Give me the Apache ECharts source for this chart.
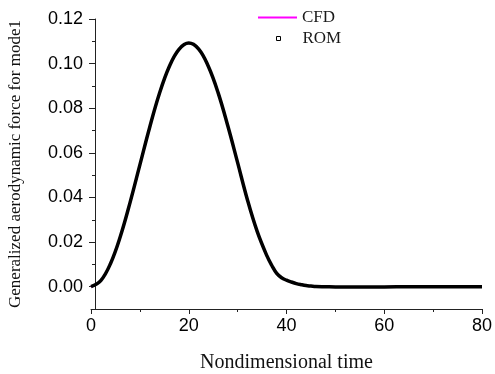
<!DOCTYPE html>
<html>
<head>
<meta charset="utf-8">
<script src="https://cdn.jsdelivr.net/npm/echarts@6/dist/echarts.min.js"></script>
<style>
  html, body { margin: 0; padding: 0; background: #fff; }
  #chart { width: 495px; height: 374px; }
</style>
</head>
<body>
<div id="chart"></div>
<script>
// nondimensional time samples
const timeSteps = [0, 2, 4, 6, 8, 10, 12, 14, 16, 18, 20, 22, 24, 26, 28, 30, 32, 34, 36, 37, 38, 39,
  40, 41, 42, 43, 44, 45, 46, 48, 50, 55, 60, 65, 70, 75, 80];

const cfdValues = [0, 0.0027, 0.0104, 0.0225, 0.0378, 0.0546, 0.0714, 0.0866, 0.0986, 0.1064, 0.1092,
  0.1066, 0.0988, 0.0870, 0.0720, 0.0556, 0.0390, 0.0248, 0.0138, 0.0095, 0.0060, 0.0040,
  0.0029, 0.0021, 0.0014, 0.0009, 0.0005, 0.0003, 0.0001, 0, -0.0001, -0.0001, -0.0001, 0, 0, 0, 0];

const romValues = [0, 0.0027, 0.0104, 0.0225, 0.0378, 0.0546, 0.0714, 0.0866, 0.0986, 0.1064, 0.1092,
  0.1066, 0.0988, 0.0870, 0.0720, 0.0556, 0.0390, 0.0248, 0.0138, 0.0095, 0.0060, 0.0040,
  0.0029, 0.0021, 0.0014, 0.0009, 0.0005, 0.0003, 0.0001, 0, -0.0001, -0.0001, -0.0001, 0, 0, 0, 0];

const yMajorTicks = [0, 0.02, 0.04, 0.06, 0.08, 0.10, 0.12];
const yMinorTicks = [-0.01, 0.01, 0.03, 0.05, 0.07, 0.09, 0.11];

const toPairs = (vals) => timeSteps.map((t, i) => [t, vals[i]]);

const chart = echarts.init(document.getElementById('chart'));

const axisColor = '#222';
const tickFont = { color: '#000', fontFamily: 'Liberation Sans', fontSize: 18 };

const option = {
  animation: false,
  backgroundColor: '#fff',
  grid: { left: 91, right: 13, top: 19, bottom: 65, outerBoundsMode: 'none' },
  legend: [
    {
      data: ['CFD'],
      left: 258,
      top: 9,
      padding: 0,
      icon: 'rect',
      itemWidth: 39,
      itemHeight: 2,
      itemGap: 0,
      textStyle: { fontFamily: 'Liberation Serif', fontSize: 17, color: '#1a1a1a' },
    },
    {
      data: ['ROM'],
      left: 276,
      top: 30,
      padding: 0,
      icon: 'rect',
      itemWidth: 4,
      itemHeight: 4,
      itemStyle: { color: '#fff', borderColor: '#000', borderWidth: 1 },
      textStyle: { fontFamily: 'Liberation Serif', fontSize: 17, color: '#1a1a1a', padding: [0, 0, 0, 17] },
    },
  ],
  xAxis: {
    type: 'value',
    min: 0,
    max: 80,
    interval: 20,
    name: 'Nondimensional time',
    nameLocation: 'middle',
    nameGap: 44,
    nameTextStyle: { fontFamily: 'Liberation Serif', fontSize: 20, color: '#111' },
    axisLine: { onZero: false, lineStyle: { color: axisColor, width: 1 } },
    axisTick: { length: 5, lineStyle: { color: axisColor } },
    minorTick: { show: true, splitNumber: 2, length: 3, lineStyle: { color: axisColor } },
    axisLabel: Object.assign({ margin: 8 }, tickFont),
    splitLine: { show: false },
  },
  yAxis: [
    {
      type: 'value',
      position: 'left',
      min: -0.01,
      max: 0.12,
      offset: -4,
      name: 'Generalized aerodynamic force for mode1',
      nameLocation: 'middle',
      nameGap: 71,
      nameTextStyle: { fontFamily: 'Liberation Serif', fontSize: 17, color: '#111' },
      axisLine: { show: true, onZero: false, lineStyle: { color: axisColor, width: 1 } },
      axisTick: { show: true, length: 6, customValues: yMajorTicks, lineStyle: { color: axisColor } },
      axisLabel: Object.assign({
        margin: 12,
        customValues: yMajorTicks,
        formatter: (v) => v.toFixed(2),
      }, tickFont),
      splitLine: { show: false },
    },
    {
      type: 'value',
      position: 'left',
      min: -0.01,
      max: 0.12,
      offset: -4,
      axisLine: { show: false, onZero: false },
      axisTick: { show: true, length: 3, customValues: yMinorTicks, lineStyle: { color: axisColor } },
      axisLabel: { show: false },
      splitLine: { show: false },
    },
  ],
  series: [
    {
      name: 'CFD',
      type: 'line',
      data: toPairs(cfdValues),
      symbol: 'none',
      smooth: 0.4,
      lineStyle: { color: '#ff00ff', width: 2 },
      itemStyle: { color: '#ff00ff' },
      z: 2,
    },
    {
      name: 'ROM',
      type: 'line',
      data: toPairs(romValues),
      symbol: 'none',
      smooth: 0.4,
      lineStyle: { color: '#000', width: 3.5 },
      itemStyle: { color: '#000' },
      z: 3,
    },
  ],
};

chart.setOption(option);
</script>
</body>
</html>
